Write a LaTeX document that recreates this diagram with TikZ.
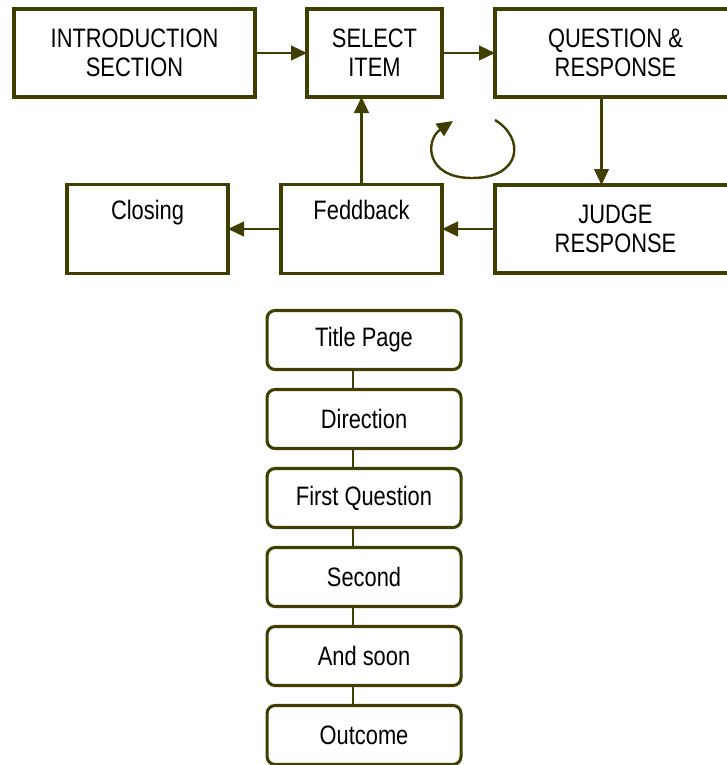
\documentclass[tikz,border=0pt]{standalone}
\usepackage{fontspec}
\setmainfont{Liberation Sans}[FakeStretch=0.82]
\usepackage{xcolor}
\usepackage{tikz}
\usetikzlibrary{arrows.meta,positioning}
\definecolor{olive}{RGB}{64,62,0}
\tikzset{
    module/.style={
        rectangle, draw=olive, line width=2.3pt, outer sep=0pt,
        minimum width=180.75pt, minimum height=66pt,
        align=center, font=\fontsize{20}{21.75}\selectfont
    },
    smallmodule/.style={
        module, minimum width=120.75pt, minimum height=66.75pt
    },
    screen/.style={
        rectangle, rounded corners=6pt, draw=olive, line width=2.3pt, outer sep=0pt,
        minimum width=145.5pt, minimum height=44.25pt,
        align=center, font=\fontsize{20}{21.75}\selectfont
    },
    arrow/.style={-{Triangle[length=12pt,width=11pt]},draw=olive,line width=1.8pt},
    link/.style={draw=olive,line width=2pt}
}
\begin{document}
\begin{tikzpicture}[x=0.75pt,y=-0.75pt]
\useasboundingbox (0,0) rectangle (726,765);

% Top loop
\node[module] (intro) at (134.5,53) {INTRODUCTION\\SECTION};
\node[module, minimum width=101.25pt, right=39pt of intro] (select) {SELECT\\ITEM};
\node[module, right=39.75pt of select] (question) {QUESTION \&\\RESPONSE};
\node[module, below=66pt of question] (judge) {JUDGE\\RESPONSE};
\node[smallmodule, left=39.75pt of judge] (feedback) {Feddback\\\strut};
\node[smallmodule, left=39.75pt of feedback] (closing) {Closing\\\strut};

% Arrows
\draw[arrow] (intro) -- (select);
\draw[arrow] (select) -- (question);
\draw[arrow] ([xshift=-10.5pt]question.south) -- ([xshift=-10.5pt]judge.north);
\draw[arrow] (judge) -- (feedback);
\draw[arrow] (feedback) -- (closing);
\draw[arrow] (feedback.north) -- (feedback.north |- select.south);

% Repeat sign
\coordinate (loopstart) at (495,120);
\coordinate (loopend) at (453,121);
\draw[arrow] (loopstart) .. controls (525,138) and (522,178) .. (472,178)
    .. controls (425,178) and (425,140) .. (loopend);

% Screen sequence
\node[screen, below=27.75pt of feedback, xshift=1.9pt] (title) {Title Page};
\node[screen, below=15pt of title] (direction) {Direction};
\node[screen, below=15pt of direction] (first) {First Question};
\node[screen, below=15pt of first] (second) {Second};
\node[screen, below=15pt of second] (soon) {And soon};
\node[screen, below=15pt of soon] (outcome) {Outcome};

\foreach \a/\b in {title/direction, direction/first, first/second, second/soon, soon/outcome}
    \draw[link] ([xshift=-8.25pt]\a.south) -- ([xshift=-8.25pt]\b.north);

\end{tikzpicture}
\end{document}
